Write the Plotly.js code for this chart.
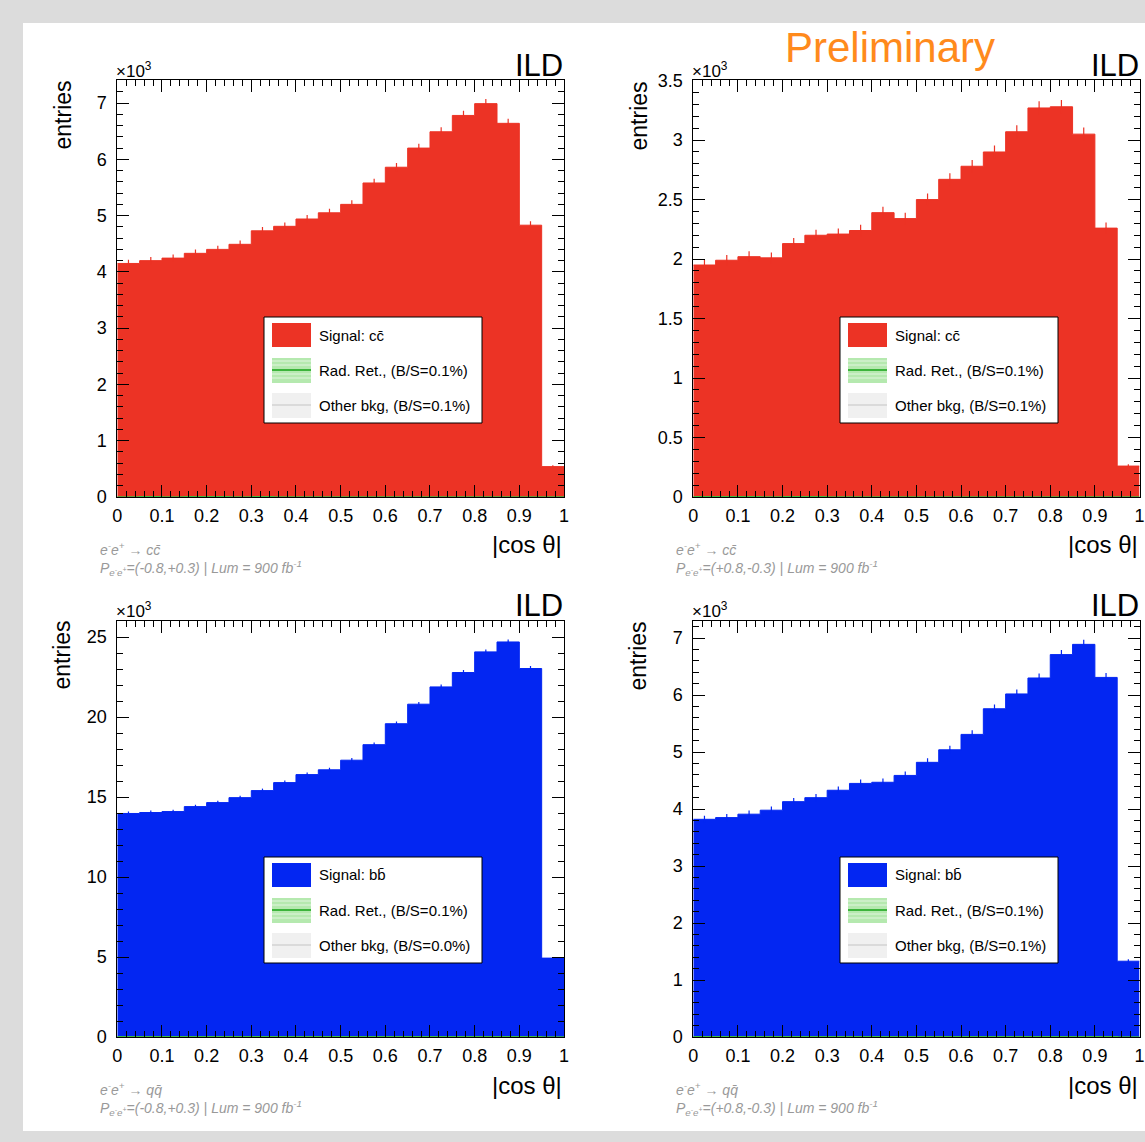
<!DOCTYPE html>
<html>
<head>
<meta charset="utf-8">
<script src="https://cdn.plot.ly/plotly-3.0.1.min.js"></script>
<style>html,body{margin:0;padding:0;background:#dcdcdc;}#chart{width:1145px;height:1142px;}</style>
</head>
<body>
<div id="chart"></div>
<script>
// ---------------- DATA ----------------
const binLowEdges = [0,0.05,0.1,0.15,0.2,0.25,0.3,0.35,0.4,0.45,0.5,0.55,0.6,0.65,0.7,0.75,0.8,0.85,0.9,0.95];
const binWidth = 0.05;
const xTickLabels = ['0','0.1','0.2','0.3','0.4','0.5','0.6','0.7','0.8','0.9','1'];

// entries (x10^3) per |cos theta| bin
const signalCC_m08p03 = [4.15,4.20,4.245,4.33,4.40,4.49,4.73,4.81,4.94,5.05,5.20,5.58,5.86,6.20,6.49,6.78,6.99,6.64,4.83,0.54];
const signalCC_p08m03 = [1.95,1.99,2.02,2.01,2.13,2.20,2.21,2.24,2.39,2.34,2.50,2.67,2.78,2.90,3.07,3.27,3.28,3.05,2.26,0.26];
const signalBB_m08p03 = [13.97,14.03,14.09,14.40,14.65,14.96,15.40,15.90,16.40,16.70,17.30,18.27,19.58,20.80,21.88,22.78,24.07,24.69,23.03,4.93];
const signalBB_p08m03 = [3.82,3.85,3.91,3.98,4.13,4.20,4.33,4.45,4.47,4.59,4.82,5.04,5.31,5.76,6.02,6.30,6.71,6.89,6.31,1.33];

// radiative-return background (x10^3), tiny
const radRetCC_m08p03 = [0,0.005,0,0.005,0.005,0,0.005,0,0,0,0,0,0,0,0,0,0,0,0,0];
const radRetCC_p08m03 = [0.003,0.003,0.003,0,0.003,0.003,0,0,0,0,0,0,0,0,0,0,0,0,0,0];
const radRetBB_m08p03 = [0.02,0.02,0.02,0.02,0.02,0.02,0.02,0.02,0.02,0.02,0.02,0.02,0.02,0.02,0.02,0.02,0.02,0.02,0.02,0];
const radRetBB_p08m03 = [0.005,0.005,0.005,0.005,0.005,0.005,0.005,0.005,0.005,0.005,0.005,0.005,0.005,0.005,0.005,0.005,0.005,0.005,0.005,0];

const panelsInfo = [
  {sig: signalCC_m08p03, rad: radRetCC_m08p03, yMax: 7.41, yDtick: 1, yMinor: 0.2, color: '#ec3325',
   sigLabel: 'Signal: cc\u0304', radLabel: 'Rad. Ret., (B/S=0.1%)', othLabel: 'Other bkg, (B/S=0.1%)',
   proc: 'e<sup>-</sup>e<sup>+</sup> \u2192 cc\u0304', pol: '(-0.8,+0.3)'},
  {sig: signalCC_p08m03, rad: radRetCC_p08m03, yMax: 3.505, yDtick: 0.5, yMinor: 0.1, color: '#ec3325',
   sigLabel: 'Signal: cc\u0304', radLabel: 'Rad. Ret., (B/S=0.1%)', othLabel: 'Other bkg, (B/S=0.1%)',
   proc: 'e<sup>-</sup>e<sup>+</sup> \u2192 cc\u0304', pol: '(+0.8,-0.3)'},
  {sig: signalBB_m08p03, rad: radRetBB_m08p03, yMax: 26.0, yDtick: 5, yMinor: 1, color: '#0326f2',
   sigLabel: 'Signal: bb\u0304', radLabel: 'Rad. Ret., (B/S=0.1%)', othLabel: 'Other bkg, (B/S=0.0%)',
   proc: 'e<sup>-</sup>e<sup>+</sup> \u2192 qq\u0304', pol: '(-0.8,+0.3)'},
  {sig: signalBB_p08m03, rad: radRetBB_p08m03, yMax: 7.3, yDtick: 1, yMinor: 0.2, color: '#0326f2',
   sigLabel: 'Signal: bb\u0304', radLabel: 'Rad. Ret., (B/S=0.1%)', othLabel: 'Other bkg, (B/S=0.1%)',
   proc: 'e<sup>-</sup>e<sup>+</sup> \u2192 qq\u0304', pol: '(+0.8,-0.3)'}
];

// ---------------- LAYOUT HELPERS ----------------
const W = 1145, H = 1142;
const FONT = 'Liberation Sans, Arial, Helvetica, sans-serif';
const px = x => x / W;
const py = y => 1 - y / H;
// panel pixel frames: [left, right, top, bottom]
const frames = [
  [117.3, 564, 80, 497],
  [693.3, 1139.5, 80, 497],
  [117.3, 564, 621, 1037],
  [693.3, 1139.5, 621, 1037]
];
const offs = [[0,0],[576,0],[0,540],[576,540]];

const traces = [];
const layout = {
  width: W, height: H,
  margin: {l:0, r:0, t:0, b:0},
  paper_bgcolor: '#dcdcdc',
  plot_bgcolor: 'white',
  showlegend: false,
  font: {family: FONT, color: 'black'},
  shapes: [],
  annotations: []
};

layout.shapes.push({type:'rect', xref:'paper', yref:'paper', x0:px(23), x1:1.01, y0:py(1131), y1:py(23),
  fillcolor:'white', line:{width:0}, layer:'below'});

const binCenters = binLowEdges.map(e => e + binWidth/2);
const edgesAll = binLowEdges.concat([binLowEdges[binLowEdges.length-1] + binWidth]);

panelsInfo.forEach((p, i) => {
  const n = i === 0 ? '' : String(i+1);
  const fr = frames[i];
  const [ox, oy] = offs[i];
  layout['xaxis'+n] = {
    domain: [px(fr[0]), px(fr[1])], range: [0, 1], anchor: 'y'+n,
    showline: true, linecolor: 'black', linewidth: 1, mirror: 'allticks',
    ticks: 'inside', ticklen: 12, tickwidth: 1, tickcolor: 'black',
    tickmode: 'array', tickvals: xTickLabels.map(Number), ticktext: xTickLabels,
    minor: {ticks: 'inside', ticklen: 6, dtick: 0.02, tick0: 0, tickcolor: 'black', tickwidth: 1, showgrid: false},
    showgrid: false, zeroline: false, tickfont: {family: FONT, size: 18, color: 'black'},
    ticklabelstandoff: 2, fixedrange: true
  };
  layout['yaxis'+n] = {
    domain: [py(fr[3]), py(fr[2])], range: [0, p.yMax], anchor: 'x'+n,
    showline: true, linecolor: 'black', linewidth: 1, mirror: 'allticks',
    ticks: 'inside', ticklen: 12, tickwidth: 1, tickcolor: 'black',
    dtick: p.yDtick, tick0: 0,
    minor: {ticks: 'inside', ticklen: 6, dtick: p.yMinor, tick0: 0, tickcolor: 'black', tickwidth: 1, showgrid: false},
    showgrid: false, zeroline: false, tickfont: {family: FONT, size: 18, color: 'black'},
    ticklabelstandoff: 6, fixedrange: true
  };
  // filled step histogram (signal)
  traces.push({
    type: 'scatter', mode: 'lines', x: edgesAll, y: p.sig.concat([p.sig[p.sig.length-1]]),
    line: {shape: 'hv', color: p.color, width: 1}, fill: 'tozeroy', fillcolor: p.color,
    xaxis: 'x'+n, yaxis: 'y'+n, hoverinfo: 'skip'
  });
  // statistical error bars at bin centres
  traces.push({
    type: 'scatter', mode: 'markers', x: binCenters, y: p.sig, marker: {size: 1, color: p.color},
    error_y: {type: 'data', array: p.sig.map(v => Math.sqrt(v*1000)/1000), color: p.color, thickness: 1.2, width: 0},
    xaxis: 'x'+n, yaxis: 'y'+n, hoverinfo: 'x+y'
  });
  // radiative return background line
  traces.push({
    type: 'scatter', mode: 'lines', x: edgesAll, y: p.rad.concat([p.rad[p.rad.length-1]]),
    line: {shape: 'hv', color: '#3dbb3d', width: 1.5}, xaxis: 'x'+n, yaxis: 'y'+n, hoverinfo: 'skip'
  });

  const A = (x, y, text, opts) => layout.annotations.push(Object.assign({
    xref: 'paper', yref: 'paper', x: px(x + ox), y: py(y + oy), text: text, showarrow: false,
    font: {family: FONT, size: 15, color: 'black'}, xanchor: 'left', yanchor: 'middle'
  }, opts || {}));

  // axis titles & labels
  A(62, 79, 'entries', {textangle: -90, xanchor: 'center', yanchor: 'top', font: {family: FONT, size: 23, color: 'black'}});
  A(564, 545, '|cos \u03b8|', {xanchor: 'right', font: {family: FONT, size: 24, color: 'black'}});
  A(565, 65, 'ILD', {xanchor: 'right', font: {family: FONT, size: 31, color: 'black'}});
  A(114, 70, '\u00d710<sup>3</sup>', {font: {family: FONT, size: 17, color: 'black'}});
  // process text (two lines, one block)
  A(98, 559, '<i>' + p.proc + '<br>P<sub>e<sup>-</sup>e<sup>+</sup></sub>=' + p.pol + ' | Lum = 900 fb<sup>-1</sup></i>',
    {align: 'left', font: {family: FONT, size: 14, color: '#999999'}});

  // legend box
  const S = (s) => layout.shapes.push(Object.assign({xref: 'paper', yref: 'paper'}, s));
  S({type: 'rect', x0: px(264+ox), x1: px(482+ox), y0: py(423+oy), y1: py(317+oy), fillcolor: 'white', line: {color: 'black', width: 1}});
  S({type: 'rect', x0: px(272+ox), x1: px(311+ox), y0: py(347+oy), y1: py(323+oy), fillcolor: p.color, line: {width: 0}});
  S({type: 'rect', x0: px(272+ox), x1: px(311+ox), y0: py(383+oy), y1: py(358+oy), fillcolor: 'rgba(120,215,110,0.55)', line: {width: 0}});
  [361, 365, 374, 378].forEach(yy => S({type: 'line', x0: px(272+ox), x1: px(311+ox), y0: py(yy+oy), y1: py(yy+oy), line: {color: 'rgba(255,255,255,0.6)', width: 1}}));
  S({type: 'line', x0: px(272+ox), x1: px(311+ox), y0: py(370+oy), y1: py(370+oy), line: {color: '#3cb43c', width: 2}});
  S({type: 'rect', x0: px(272+ox), x1: px(311+ox), y0: py(418+oy), y1: py(393+oy), fillcolor: '#f0f0f0', line: {width: 0}});
  S({type: 'line', x0: px(272+ox), x1: px(311+ox), y0: py(405+oy), y1: py(405+oy), line: {color: '#c4c4c4', width: 1}});
  A(317, 335, p.sigLabel);
  A(317, 370, p.radLabel);
  A(317, 405, p.othLabel);
});

layout.annotations.push({xref: 'paper', yref: 'paper', x: px(890), y: py(47), text: 'Preliminary', showarrow: false,
  font: {family: FONT, size: 42, color: '#ff8a1c'}, xanchor: 'center', yanchor: 'middle'});

Plotly.newPlot('chart', traces, layout, {staticPlot: true, displayModeBar: false});
</script>
</body>
</html>
